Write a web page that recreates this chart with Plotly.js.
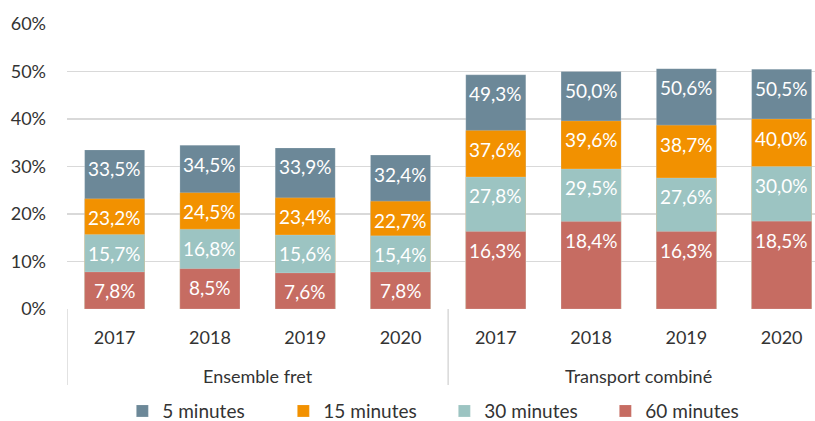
<!DOCTYPE html>
<html>
<head>
<meta charset="utf-8">
<script src="https://cdn.plot.ly/plotly-3.0.1.min.js"></script>
<style>html,body{margin:0;padding:0;background:#fff}#chart{width:815px;height:421px}</style>
</head>
<body>
<div id="chart"></div>
<script>
const groups = ['Ensemble fret','Ensemble fret','Ensemble fret','Ensemble fret',
                'Transport combiné','Transport combiné','Transport combiné','Transport combiné'];
const years = ['2017','2018','2019','2020','2017','2018','2019','2020'];
const seriesNames = ['5 minutes','15 minutes','30 minutes','60 minutes'];
const min5  = [33.5, 34.5, 33.9, 32.4, 49.3, 50.0, 50.6, 50.5];
const min15 = [23.2, 24.5, 23.4, 22.7, 37.6, 39.6, 38.7, 40.0];
const min30 = [15.7, 16.8, 15.6, 15.4, 27.8, 29.5, 27.6, 30.0];
const min60 = [7.8, 8.5, 7.6, 7.8, 16.3, 18.4, 16.3, 18.5];
const colors = ['#6c8898','#f29100','#9cc4c2','#c66c62'];

const FONT = 'Lato, "Open Sans", sans-serif';
const xIdx = years.map((_, i) => i);
const allSeries = [min5, min15, min30, min60];

const data = allSeries.map((vals, i) => ({
  type: 'bar',
  name: seriesNames[i],
  x: xIdx,
  y: vals,
  marker: {color: colors[i], line: {color: 'rgba(255,255,255,0.35)', width: 0.5}},
  hoverinfo: 'skip'
}));

// value labels: placed just inside the top of each bar, through the axis scales
const fmt = v => v.toFixed(1).replace('.', ',') + '%';
const annotations = [];
allSeries.forEach(vals => {
  vals.forEach((v, j) => {
    annotations.push({
      x: xIdx[j], y: v, xref: 'x', yref: 'y',
      text: fmt(v), showarrow: false,
      yanchor: 'middle', xanchor: 'center', yshift: -19,
      font: {color: '#ffffff', size: 19, family: FONT}
    });
  });
});

// group labels (second category level)
const groupNames = [...new Set(groups)];
const shapes = [];
groupNames.forEach(g => {
  const idx = xIdx.filter(i => groups[i] === g);
  const mid = idx.reduce((a, b) => a + b, 0) / idx.length;
  annotations.push({
    x: mid, y: -0.235, xref: 'x', yref: 'paper',
    text: g, showarrow: false, yanchor: 'middle', xanchor: 'center',
    font: {color: '#333333', size: 18, family: FONT}
  });
  const start = Math.min(...idx) - 0.5;
  shapes.push({type: 'line', xref: 'x', yref: 'paper', x0: start, x1: start, y0: 0, y1: -0.267,
               line: {color: '#d9d9d9', width: 1.5}});
});

const layout = {
  width: 815, height: 421,
  margin: {l: 67, r: 0, t: 24, b: 112, autoexpand: false},
  barmode: 'overlay',
  bargap: 0.37,
  paper_bgcolor: '#ffffff',
  plot_bgcolor: '#ffffff',
  font: {family: FONT, color: '#333333', size: 17},
  showlegend: true,
  legend: {orientation: 'h', x: 0.074, xanchor: 'left', y: -0.358, yanchor: 'middle',
           font: {size: 19, color: '#333333'}, traceorder: 'normal', itemwidth: 30,
           entrywidth: 116, entrywidthmode: 'pixels'},
  annotations: annotations,
  shapes: shapes,
  xaxis: {
    range: [-0.5, 7.35],
    tickvals: xIdx,
    ticktext: years,
    showgrid: false,
    zeroline: false,
    showline: false,
    ticks: '',
    tickfont: {size: 18, color: '#333333'},
    ticklabelstandoff: 16,
    automargin: false
  },
  yaxis: {
    range: [0, 60],
    dtick: 10,
    ticksuffix: '%',
    showgrid: true, gridcolor: '#d9d9d9', gridwidth: 1.5,
    zeroline: false,
    showline: false,
    ticks: '',
    tickfont: {size: 18, color: '#333333'},
    ticklabelstandoff: 20,
    automargin: false
  }
};

Plotly.newPlot('chart', data, layout, {displayModeBar: false, staticPlot: true});
</script>
</body>
</html>
